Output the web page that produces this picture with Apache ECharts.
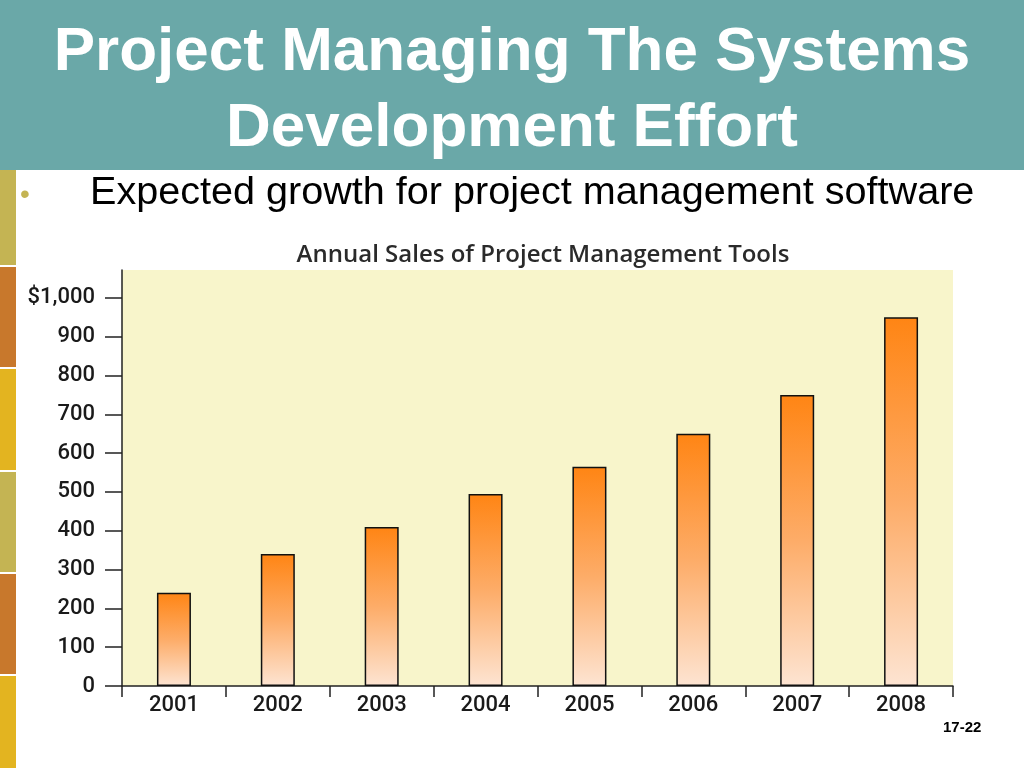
<!DOCTYPE html>
<html><head><meta charset="utf-8">
<style>html,body{margin:0;padding:0;background:#fff;}#c{width:1024px;height:768px;}</style>
<script src="https://cdn.jsdelivr.net/npm/echarts@6/dist/echarts.min.js"></script>
</head><body><div id="c"></div>
<script>
const years = ['2001','2002','2003','2004','2005','2006','2007','2008'];
const sales = [240, 340, 410, 495, 565, 650, 750, 950];
const yTicks = [0,100,200,300,400,500,600,700,800,900,1000];

const chart = echarts.init(document.getElementById('c'));
const stripColors = ['#c4b453','#c8782c','#e3b420','#c4b453','#c8782c','#e3b420'];
const stripY = [170,267,369,472,574,676];
const stripG = stripY.map((y,i)=>({type:'rect',shape:{x:0,y:y,width:16,height:(i<5?stripY[i+1]-2:768)-y},style:{fill:stripColors[i]},silent:true}));
const axisFont = 'Roboto, "Liberation Sans", sans-serif';

chart.setOption({
  animation:false,
  graphic:[
    {type:'rect',shape:{x:0,y:0,width:1024,height:170},style:{fill:'#6aa8a8'},z:0},
    ...stripG,
    {type:'text',left:'center',top:15,style:{text:'Project Managing The Systems\nDevelopment Effort',fill:'#fff',font:'bold 62px "Liberation Sans", Arial, sans-serif',textAlign:'center',lineHeight:76}},
    {type:'text',left:20,top:181,style:{text:'•',fill:'#c4b453',font:'28px "Liberation Sans", Arial, sans-serif'}},
    {type:'text',left:90,top:173,style:{text:'Expected growth for project management software',fill:'#000',font:'39.6px "Liberation Sans", Arial, sans-serif'}},
    {type:'text',left:943,top:720,style:{text:'17-22',fill:'#000',font:'bold 15px "Liberation Sans", Arial, sans-serif'}}
  ],
  title:{text:'Annual Sales of Project Management Tools',left:538,textAlign:'center',top:238,
    textStyle:{color:'#2a2a2a',fontSize:24,fontWeight:600,fontFamily:'"Open Sans", Roboto, sans-serif'}},
  grid:{left:122,right:71,top:270,bottom:82,show:true,backgroundColor:'#f8f5cb',borderWidth:0},
  xAxis:{type:'category',data:years,boundaryGap:true,
    axisLine:{lineStyle:{color:'#222',width:1.5}},
    axisTick:{show:true,interval:0,length:11,lineStyle:{color:'#222',width:1.5}},
    axisLabel:{color:'#1a1a1a',fontSize:22,fontWeight:500,margin:8,fontFamily:axisFont,interval:0},
    splitLine:{show:false}},
  yAxis:{type:'value',min:0,max:1072,
    axisLine:{show:true,lineStyle:{color:'#222',width:1.5}},
    axisTick:{show:true,length:17,customValues:yTicks,lineStyle:{color:'#222',width:1.5}},
    axisLabel:{customValues:yTicks,color:'#1a1a1a',fontSize:22,fontWeight:500,margin:27,fontFamily:axisFont,
      formatter:v=>v===1000?'$1,000':String(v)},
    splitLine:{show:false}},
  series:[{type:'bar',data:sales,barWidth:34,
    itemStyle:{borderColor:'#111',borderWidth:1.5,
      color:new echarts.graphic.LinearGradient(0,0,0,1,[{offset:0,color:'#ff8514'},{offset:0.5,color:'#fdac68'},{offset:1,color:'#fde4d2'}])}}]
});
</script></body></html>
